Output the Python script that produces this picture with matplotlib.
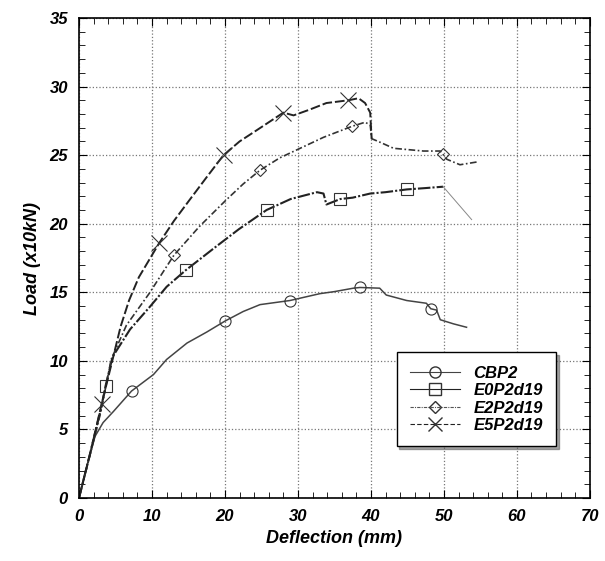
import numpy as np
import matplotlib
matplotlib.use("Agg")
import matplotlib.pyplot as plt
from matplotlib.ticker import MultipleLocator

plt.rcParams['font.family'] = ['Liberation Sans', 'DejaVu Sans']

# --- Data (deflection mm, load x10kN) ---
cbp2_x = [0, 1.0, 2.2, 3.3, 4.7, 7.2, 10.2, 12.0, 14.8, 17.5, 20.0, 22.5, 24.8, 28.9,
          33.0, 35.0, 37.6, 38.5, 41.2, 42.1, 44.9, 47.6, 48.2, 49.0, 49.5, 51.3, 53.1]
cbp2_y = [0, 2.2, 4.5, 5.5, 6.3, 7.8, 9.0, 10.1, 11.3, 12.1, 12.9, 13.6, 14.1, 14.4,
          14.9, 15.05, 15.3, 15.35, 15.3, 14.8, 14.4, 14.2, 13.8, 13.7, 13.0, 12.7, 12.45]
cbp2_mx = [7.2, 20.0, 28.9, 38.5, 48.2]
cbp2_my = [7.8, 12.9, 14.4, 15.35, 13.8]

e0_x = [0, 1.5, 3.0, 3.65, 4.6, 7.0, 9.8, 12.0, 14.6, 18.7, 21.9, 25.7, 29.0, 32.6,
        33.5, 33.9, 35.8, 37.5, 39.9, 42.0, 44.9, 47.5, 49.9]
e0_y = [0, 3.2, 6.5, 8.2, 10.3, 12.3, 14.0, 15.4, 16.6, 18.3, 19.6, 21.0, 21.8, 22.3,
        22.2, 21.4, 21.8, 21.9, 22.2, 22.3, 22.5, 22.6, 22.7]
e0_mx = [3.65, 14.6, 25.7, 35.8, 44.9]
e0_my = [8.2, 16.6, 21.0, 21.8, 22.5]
e0_tail_x = [49.9, 53.8]
e0_tail_y = [22.7, 20.3]

e2_x = [0, 1.5, 3.0, 4.4, 6.5, 9.6, 13.0, 16.5, 20.1, 22.5, 24.8, 27.5, 30.3,
        33.5, 37.4, 39.2, 39.9, 40.1, 41.0, 43.1, 47.2, 49.5, 50.4, 52.2, 54.5]
e2_y = [0, 3.1, 6.3, 10.1, 12.6, 14.9, 17.7, 19.8, 21.7, 22.9, 23.9, 24.8, 25.5,
        26.3, 27.1, 27.4, 27.2, 26.2, 26.0, 25.5, 25.3, 25.3, 24.7, 24.3, 24.5]
e2_mx = [13.0, 24.8, 37.4, 49.9]
e2_my = [17.7, 23.9, 27.1, 25.1]

e5_x = [0, 1.5, 3.1, 4.6, 5.7, 6.85, 8.2, 11.0, 13.0, 15.1, 17.5, 19.8, 22.0, 24.3,
        28.0, 29.4, 31.5, 33.9, 36.9, 38.3, 39.2, 39.9, 40.0, 40.1]
e5_y = [0, 3.2, 6.85, 10.1, 12.5, 14.4, 16.1, 18.6, 20.2, 21.7, 23.4, 25.0, 26.0, 26.8,
        28.1, 27.9, 28.3, 28.8, 29.0, 29.15, 28.8, 28.1, 27.1, 26.2]
e5_mx = [3.1, 11.0, 19.8, 28.0, 36.9]
e5_my = [6.85, 18.6, 25.0, 28.1, 29.0]

fig = plt.figure(figsize=(6.05, 5.61), dpi=100)
ax = fig.add_axes([0.1306, 0.1123, 0.8444, 0.8556])

mk = dict(markerfacecolor='none', markeredgecolor='#333333', markeredgewidth=0.8,
          markersize=8, linestyle='none')

# CBP2
ax.plot(cbp2_x, cbp2_y, color='#444444', lw=1.1, ls='-')
ax.plot(cbp2_mx, cbp2_my, marker='o', **mk)
# E0P2d19
ax.plot(e0_x, e0_y, color='#222222', lw=1.5, ls=(0, (6, 1, 1, 1)))
ax.plot(e0_tail_x, e0_tail_y, color='#888888', lw=0.7)
ax.plot(e0_mx, e0_my, marker='s', **mk)
# E2P2d19
ax.plot(e2_x, e2_y, color='#333333', lw=1.2, ls=(0, (4, 1.5, 1, 1.5)))
ax.plot(e2_mx, e2_my, marker='D', **dict(mk, markersize=6))
# E5P2d19
ax.plot(e5_x, e5_y, color='#222222', lw=1.4, ls=(0, (5, 1.5)))
ax.plot(e5_mx, e5_my, marker='x', **dict(mk, markersize=11))

# legend proxies
h1, = ax.plot([], [], color='#444444', lw=0.8, marker='o', mfc='none', mec='#333333', ms=8)
h2, = ax.plot([], [], color='#222222', lw=0.8, marker='s', mfc='none', mec='#333333', ms=8)
h3, = ax.plot([], [], color='#555555', lw=0.8, ls=(0, (3, 1, 1, 1)), marker='D', mfc='none', mec='#333333', ms=6)
h4, = ax.plot([], [], color='#222222', lw=0.8, ls=(0, (4, 2)), marker='x', mec='#333333', ms=10)
leg = ax.legend([h1, h2, h3, h4], ['CBP2', 'E0P2d19', 'E2P2d19', 'E5P2d19'],
                loc='lower right', bbox_to_anchor=(0.95, 0.09), fancybox=False,
                shadow=True, framealpha=1, edgecolor='black', handlelength=3,
                prop=dict(size=12, weight='bold', style='italic'),
                borderpad=0.8, labelspacing=0.15)
leg.get_frame().set_linewidth(1.0)

ax.set_xlim(0, 70)
ax.set_ylim(0, 35)
ax.xaxis.set_major_locator(MultipleLocator(10))
ax.xaxis.set_minor_locator(MultipleLocator(2))
ax.yaxis.set_major_locator(MultipleLocator(5))
ax.yaxis.set_minor_locator(MultipleLocator(1))
ax.tick_params(which='both', direction='in', top=True, right=True)
ax.tick_params(which='major', length=6, labelsize=12, pad=8)
ax.tick_params(which='minor', length=4)
for lab in ax.get_xticklabels() + ax.get_yticklabels():
    lab.set_fontstyle('italic')
    lab.set_fontweight('bold')
ax.grid(True, which='major', ls=':', color='#777777', lw=0.9)
for s in ax.spines.values():
    s.set_linewidth(1.2)

ax.set_xlabel('Deflection (mm)', fontsize=13, fontweight='bold', style='italic')
ax.set_ylabel('Load (x10kN)', fontsize=13, fontweight='bold', style='italic', labelpad=6)

fig.savefig('out.png', dpi=100)
